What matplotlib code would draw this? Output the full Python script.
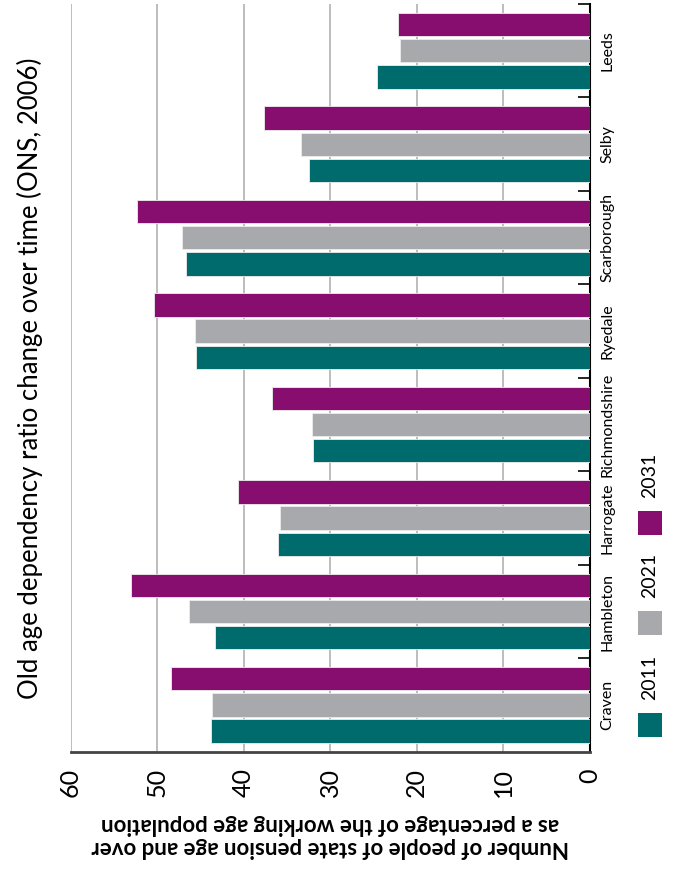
import matplotlib
matplotlib.use("Agg")
import matplotlib.pyplot as plt
from matplotlib.patches import Rectangle
import numpy as np

plt.rcParams['font.family'] = ['Lato', 'DejaVu Sans']

# data
districts = ['Craven', 'Hambleton', 'Harrogate', 'Richmondshire',
             'Ryedale', 'Scarborough', 'Selby', 'Leeds']
years = ['2011', '2021', '2031']
ratio_2011 = [43.8, 43.3, 36.0, 32.0, 45.5, 46.6, 32.4, 24.6]
ratio_2021 = [43.6, 46.3, 35.8, 32.1, 45.6, 47.1, 33.4, 21.9]
ratio_2031 = [48.4, 53.0, 40.6, 36.7, 50.4, 52.3, 37.6, 22.1]
series = [ratio_2011, ratio_2021, ratio_2031]
colors = ['#006B6C', '#A8A9AD', '#870E6F']

W, H = 683, 881
fig = plt.figure(figsize=(W / 100, H / 100), dpi=100)
ax = fig.add_axes([70.5 / W, 1 - 751.7 / H, 519 / W, 747.7 / H])

pos = np.arange(len(districts))
step = 0.28
for j, vals in enumerate(series):
    ax.barh(pos + (j - 1) * step, vals, height=0.25, color=colors[j],
            edgecolor='#EDEDED', linewidth=0.6, zorder=3)

ax.set_xlim(60, 0)
ax.set_ylim(-0.5, 7.5)
ax.set_xticks(np.arange(0, 61, 10))
ax.xaxis.grid(True, color='#BDBDBD', linewidth=1.4, zorder=0)
ax.tick_params(axis='x', length=0, pad=12, labelsize=18, labelrotation=90)

ax.yaxis.tick_right()
ax.set_yticks(pos)
ax.set_yticklabels(districts, rotation=90, va='center', ha='left', fontsize=11.5)
ax.set_yticks(np.arange(0.5, 8, 1), minor=True)
ax.tick_params(axis='y', which='major', length=0, pad=8)
ax.tick_params(axis='y', which='minor', direction='in', length=9, width=1.2,
               color='black', right=True, left=False)

for s in ['top', 'left']:
    ax.spines[s].set_visible(False)
ax.spines['bottom'].set_color('#444444')
ax.spines['bottom'].set_linewidth(2)
ax.spines['right'].set_color('black')
ax.spines['right'].set_linewidth(1.5)

ax.set_xlabel('Number of people of state pension age and over\n'
              'as a percentage of the working age population',
              rotation=180, fontsize=16, fontweight='bold', labelpad=12,
              linespacing=1.1)

fig.text(30 / W, 1 - 378 / H,
         'Old age dependency ratio change over time (ONS, 2006)',
         rotation=90, ha='center', va='center', fontsize=18.5)

# legend stacked vertically on the right
leg_y = [737, 635, 535]
for j, yr in enumerate(years):
    fig.patches.append(Rectangle((638 / W, 1 - leg_y[j] / H), 24 / W, 24 / H,
                                 transform=fig.transFigure,
                                 facecolor=colors[j], edgecolor='none'))
    fig.text(650 / W, 1 - (leg_y[j] - 37) / H, yr, rotation=90,
             ha='center', va='bottom', fontsize=14)

fig.savefig('out.png', dpi=100)
